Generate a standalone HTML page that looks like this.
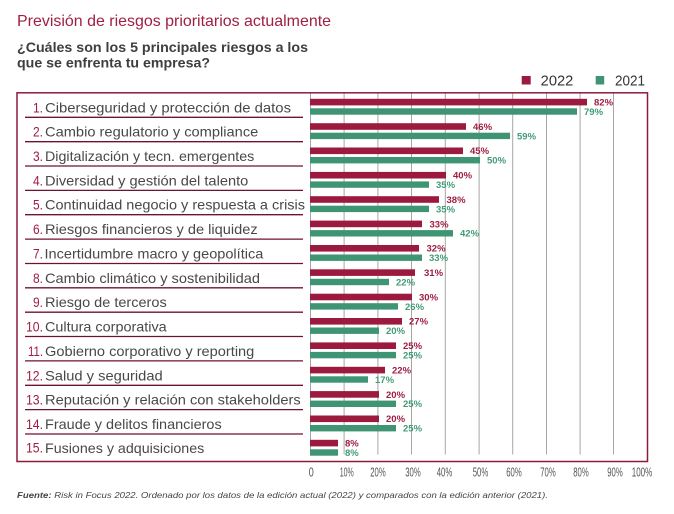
<!DOCTYPE html>
<html><head><meta charset="utf-8"><style>
html,body{margin:0;padding:0;background:#fff;}
svg{display:block;}
</style></head><body>
<svg xmlns="http://www.w3.org/2000/svg" width="674" height="514" viewBox="0 0 674 514" font-family="Liberation Sans, Arial, sans-serif">
<rect width="674" height="514" fill="#fff"/>
<text x="17" y="26" font-size="16" fill="#a01f42" textLength="314" lengthAdjust="spacingAndGlyphs">Previsión de riesgos prioritarios actualmente</text>
<text x="17" y="52" font-size="14" font-weight="bold" fill="#3e3e3e" textLength="291" lengthAdjust="spacingAndGlyphs">¿Cuáles son los 5 principales riesgos a los</text>
<text x="17" y="67.5" font-size="14" font-weight="bold" fill="#3e3e3e" textLength="193" lengthAdjust="spacingAndGlyphs">que se enfrenta tu empresa?</text>
<rect x="521.7" y="76" width="9" height="8.5" fill="#9d1a3f"/>
<text x="540.7" y="85.7" font-size="14.5" fill="#333" textLength="32.6" lengthAdjust="spacingAndGlyphs">2022</text>
<rect x="595.7" y="76" width="8.5" height="8.5" fill="#3f9573"/>
<text x="615" y="85.7" font-size="14.5" fill="#333" textLength="30" lengthAdjust="spacingAndGlyphs">2021</text>
<g stroke="#a6a6a6" stroke-width="1">
<line x1="310.5" y1="93" x2="310.5" y2="454.5"/>
<line x1="344.1" y1="93" x2="344.1" y2="454.5"/>
<line x1="377.9" y1="93" x2="377.9" y2="454.5"/>
<line x1="411.5" y1="93" x2="411.5" y2="454.5"/>
<line x1="445.3" y1="93" x2="445.3" y2="454.5"/>
<line x1="479.1" y1="93" x2="479.1" y2="454.5"/>
<line x1="512.7" y1="93" x2="512.7" y2="454.5"/>
<line x1="546.5" y1="93" x2="546.5" y2="454.5"/>
<line x1="580.1" y1="93" x2="580.1" y2="454.5"/>
<line x1="613.5" y1="93" x2="613.5" y2="454.5"/>
</g>
<rect x="17" y="92.8" width="630.5" height="368.7" fill="none" stroke="#8c1b3c" stroke-width="1.5"/>
<g stroke="#6e1231" stroke-width="1.3">
<line x1="25" y1="117.3" x2="303" y2="117.3"/>
<line x1="25" y1="141.7" x2="303" y2="141.7"/>
<line x1="25" y1="166.0" x2="303" y2="166.0"/>
<line x1="25" y1="190.4" x2="303" y2="190.4"/>
<line x1="25" y1="214.7" x2="303" y2="214.7"/>
<line x1="25" y1="239.1" x2="303" y2="239.1"/>
<line x1="25" y1="263.5" x2="303" y2="263.5"/>
<line x1="25" y1="287.8" x2="303" y2="287.8"/>
<line x1="25" y1="312.2" x2="303" y2="312.2"/>
<line x1="25" y1="336.5" x2="303" y2="336.5"/>
<line x1="25" y1="360.9" x2="303" y2="360.9"/>
<line x1="25" y1="385.3" x2="303" y2="385.3"/>
<line x1="25" y1="409.6" x2="303" y2="409.6"/>
<line x1="25" y1="434.0" x2="303" y2="434.0"/>
</g>
<g font-size="14" fill="#484848">
<text x="45" y="112.3" textLength="246" lengthAdjust="spacingAndGlyphs">Ciberseguridad y protección de datos</text>
<text x="45" y="136.7" textLength="213.3" lengthAdjust="spacingAndGlyphs">Cambio regulatorio y compliance</text>
<text x="45" y="161.0" textLength="209.3" lengthAdjust="spacingAndGlyphs">Digitalización y tecn. emergentes</text>
<text x="45" y="185.4" textLength="203.3" lengthAdjust="spacingAndGlyphs">Diversidad y gestión del talento</text>
<text x="45" y="209.7" textLength="260" lengthAdjust="spacingAndGlyphs">Continuidad negocio y respuesta a crisis</text>
<text x="45" y="234.1" textLength="212.7" lengthAdjust="spacingAndGlyphs">Riesgos financieros y de liquidez</text>
<text x="44.5" y="258.5" textLength="218.8" lengthAdjust="spacingAndGlyphs">Incertidumbre macro y geopolítica</text>
<text x="45" y="282.8" textLength="215" lengthAdjust="spacingAndGlyphs">Cambio climático y sostenibilidad</text>
<text x="45" y="307.2" textLength="121.7" lengthAdjust="spacingAndGlyphs">Riesgo de terceros</text>
<text x="45" y="331.5" textLength="121.7" lengthAdjust="spacingAndGlyphs">Cultura corporativa</text>
<text x="45" y="355.9" textLength="209.3" lengthAdjust="spacingAndGlyphs">Gobierno corporativo y reporting</text>
<text x="45" y="380.3" textLength="117.7" lengthAdjust="spacingAndGlyphs">Salud y seguridad</text>
<text x="45" y="404.6" textLength="255.7" lengthAdjust="spacingAndGlyphs">Reputación y relación con stakeholders</text>
<text x="45" y="429.0" textLength="176.7" lengthAdjust="spacingAndGlyphs">Fraude y delitos financieros</text>
<text x="45" y="453.0" textLength="159.3" lengthAdjust="spacingAndGlyphs">Fusiones y adquisiciones</text>
</g>
<g font-size="14" fill="#9e1d40" text-anchor="end">
<text x="43" y="112.3" textLength="10" lengthAdjust="spacingAndGlyphs">1.</text>
<text x="43" y="136.7" textLength="10" lengthAdjust="spacingAndGlyphs">2.</text>
<text x="43" y="161.0" textLength="10" lengthAdjust="spacingAndGlyphs">3.</text>
<text x="43" y="185.4" textLength="10" lengthAdjust="spacingAndGlyphs">4.</text>
<text x="43" y="209.7" textLength="10" lengthAdjust="spacingAndGlyphs">5.</text>
<text x="43" y="234.1" textLength="10" lengthAdjust="spacingAndGlyphs">6.</text>
<text x="43" y="258.5" textLength="10" lengthAdjust="spacingAndGlyphs">7.</text>
<text x="43" y="282.8" textLength="10" lengthAdjust="spacingAndGlyphs">8.</text>
<text x="43" y="307.2" textLength="10" lengthAdjust="spacingAndGlyphs">9.</text>
<text x="43" y="331.5" textLength="17" lengthAdjust="spacingAndGlyphs">10.</text>
<text x="43" y="355.9" textLength="15" lengthAdjust="spacingAndGlyphs">11.</text>
<text x="43" y="380.3" textLength="17" lengthAdjust="spacingAndGlyphs">12.</text>
<text x="43" y="404.6" textLength="17" lengthAdjust="spacingAndGlyphs">13.</text>
<text x="43" y="429.0" textLength="17" lengthAdjust="spacingAndGlyphs">14.</text>
<text x="43" y="452.5" textLength="17" lengthAdjust="spacingAndGlyphs">15.</text>
</g>
<g fill="#9d1a3f">
<rect x="310" y="98.8" width="277" height="6.6"/>
<rect x="310" y="123.2" width="156" height="6.6"/>
<rect x="310" y="147.5" width="153" height="6.6"/>
<rect x="310" y="171.9" width="136" height="6.6"/>
<rect x="310" y="196.2" width="129" height="6.6"/>
<rect x="310" y="220.6" width="112" height="6.6"/>
<rect x="310" y="245.0" width="109" height="6.6"/>
<rect x="310" y="269.3" width="105" height="6.6"/>
<rect x="310" y="293.7" width="102" height="6.6"/>
<rect x="310" y="318.0" width="92" height="6.6"/>
<rect x="310" y="342.4" width="86" height="6.6"/>
<rect x="310" y="366.8" width="75" height="6.6"/>
<rect x="310" y="391.1" width="69" height="6.6"/>
<rect x="310" y="415.5" width="69" height="6.6"/>
<rect x="310" y="439.8" width="28" height="6.6"/>
</g>
<g fill="#3f9573">
<rect x="310" y="108.3" width="267" height="6.4"/>
<rect x="310" y="132.7" width="200" height="6.4"/>
<rect x="310" y="157.0" width="170" height="6.4"/>
<rect x="310" y="181.4" width="119" height="6.4"/>
<rect x="310" y="205.7" width="119" height="6.4"/>
<rect x="310" y="230.1" width="143" height="6.4"/>
<rect x="310" y="254.5" width="112" height="6.4"/>
<rect x="310" y="278.8" width="79" height="6.4"/>
<rect x="310" y="303.2" width="88" height="6.4"/>
<rect x="310" y="327.5" width="69" height="6.4"/>
<rect x="310" y="351.9" width="86" height="6.4"/>
<rect x="310" y="376.3" width="58" height="6.4"/>
<rect x="310" y="400.6" width="86" height="6.4"/>
<rect x="310" y="425.0" width="86" height="6.4"/>
<rect x="310" y="449.3" width="28" height="6.4"/>
</g>
<g font-size="9.5" font-weight="bold" fill="#9e1d40">
<text x="594" y="105.5">82%</text>
<text x="473" y="129.9">46%</text>
<text x="470" y="154.2">45%</text>
<text x="453" y="178.6">40%</text>
<text x="446.5" y="202.9">38%</text>
<text x="429.5" y="227.3">33%</text>
<text x="426.5" y="251.7">32%</text>
<text x="424" y="276.0">31%</text>
<text x="419" y="300.4">30%</text>
<text x="409" y="324.7">27%</text>
<text x="403" y="349.1">25%</text>
<text x="392" y="373.5">22%</text>
<text x="386" y="397.8">20%</text>
<text x="386" y="422.2">20%</text>
<text x="345" y="446.5">8%</text>
</g>
<g font-size="9.5" font-weight="bold" fill="#429b76">
<text x="584" y="114.9">79%</text>
<text x="517" y="139.3">59%</text>
<text x="487" y="163.6">50%</text>
<text x="436" y="188.0">35%</text>
<text x="436" y="212.3">35%</text>
<text x="460" y="236.7">42%</text>
<text x="429" y="261.1">33%</text>
<text x="396" y="285.4">22%</text>
<text x="405" y="309.8">26%</text>
<text x="386" y="334.1">20%</text>
<text x="403" y="358.5">25%</text>
<text x="375" y="382.9">17%</text>
<text x="403" y="407.2">25%</text>
<text x="403" y="431.6">25%</text>
<text x="345" y="455.9">8%</text>
</g>
<g font-size="12.5" fill="#555" text-anchor="middle">
<text x="311.3" y="476.7" textLength="5" lengthAdjust="spacingAndGlyphs">0</text>
<text x="346.7" y="476.7" textLength="14" lengthAdjust="spacingAndGlyphs">10%</text>
<text x="378" y="476.7" textLength="15.5" lengthAdjust="spacingAndGlyphs">20%</text>
<text x="413" y="476.7" textLength="15.5" lengthAdjust="spacingAndGlyphs">30%</text>
<text x="444.5" y="476.7" textLength="15.5" lengthAdjust="spacingAndGlyphs">40%</text>
<text x="480.5" y="476.7" textLength="15.5" lengthAdjust="spacingAndGlyphs">50%</text>
<text x="514" y="476.7" textLength="15.5" lengthAdjust="spacingAndGlyphs">60%</text>
<text x="548" y="476.7" textLength="15.5" lengthAdjust="spacingAndGlyphs">70%</text>
<text x="581" y="476.7" textLength="15.5" lengthAdjust="spacingAndGlyphs">80%</text>
<text x="615" y="476.7" textLength="15.5" lengthAdjust="spacingAndGlyphs">90%</text>
<text x="642" y="476.7" textLength="20.5" lengthAdjust="spacingAndGlyphs">100%</text>
</g>
<text x="17" y="498" font-size="8.5" font-style="italic" fill="#444" textLength="531" lengthAdjust="spacingAndGlyphs"><tspan font-weight="bold">Fuente:</tspan> Risk in Focus 2022. Ordenado por los datos de la edición actual (2022) y comparados con la edición anterior (2021).</text>
</svg>
</body></html>
